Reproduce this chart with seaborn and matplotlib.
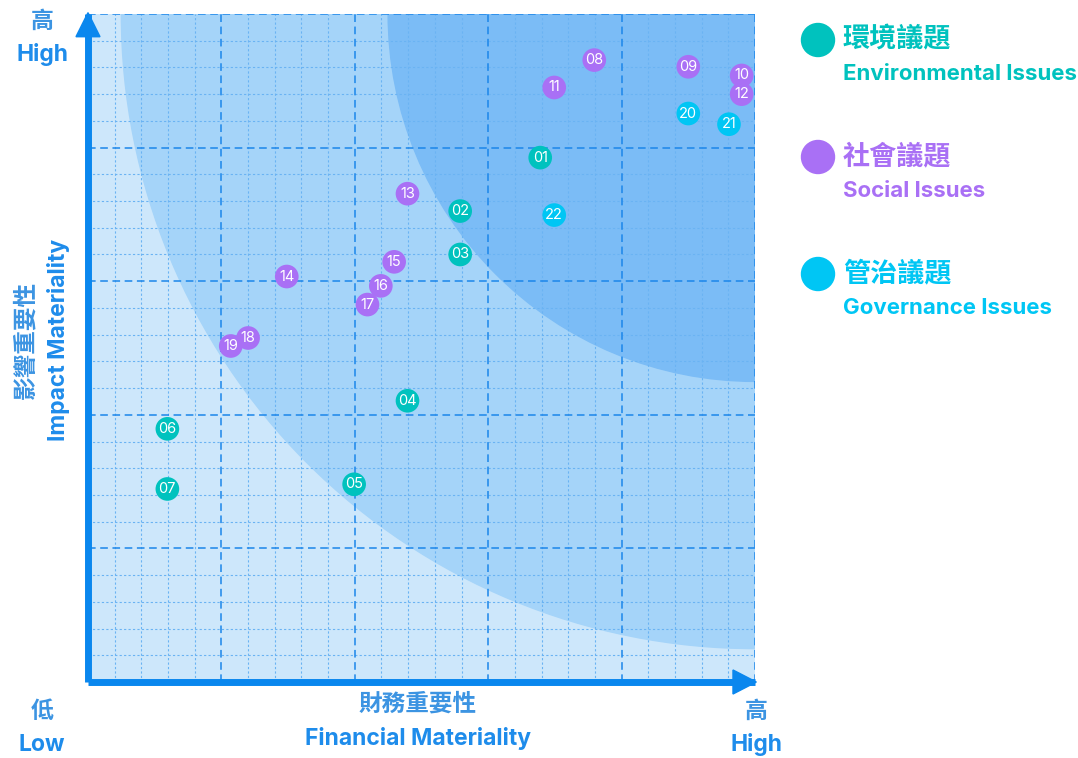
import matplotlib
matplotlib.use('Agg')
import matplotlib.pyplot as plt
from matplotlib.patches import Wedge, Ellipse
import pandas as pd
import seaborn as sns

# 議題資料 (財務重要性 x, 影響重要性 y)
issue_ids = ['01', '02', '03', '04', '05', '06', '07',
             '08', '09', '10', '11', '12', '13', '14', '15', '16', '17', '18', '19',
             '20', '21', '22']
groups = ['env'] * 7 + ['soc'] * 12 + ['gov'] * 3
fin_vals = [6.78, 5.58, 5.58, 4.79, 3.99, 1.19, 1.19,
            7.59, 9.0, 9.80, 6.99, 9.80, 4.79, 2.98, 4.59, 4.39, 4.19, 2.40, 2.14,
            9.0, 9.61, 6.99]
imp_vals = [7.85, 7.05, 6.40, 4.21, 2.96, 3.79, 2.89,
            9.31, 9.21, 9.08, 8.90, 8.80, 7.31, 6.07, 6.29, 5.93, 5.65, 5.15, 5.03,
            8.51, 8.35, 6.99]

colors = {'env': '#00C2BE', 'soc': '#A970F5', 'gov': '#00C6F4'}
legend_zh = ['環境議題', '社會議題', '管治議題']
legend_en = ['Environmental Issues', 'Social Issues', 'Governance Issues']

df = pd.DataFrame({'id': issue_ids, 'group': groups, 'fin': fin_vals, 'imp': imp_vals})

sns.set_theme(style='white')
plt.rcParams['font.family'] = ['Inter', 'Noto Sans CJK TC', 'DejaVu Sans']

fig = plt.figure(figsize=(10.78, 7.58), dpi=100)
ax = fig.add_axes([88 / 1078, 76 / 758, 667 / 1078, 668 / 758])
ax.set_xlim(0, 10)
ax.set_ylim(0, 10)

# 背景區塊
ax.add_patch(plt.Rectangle((0, 0), 10, 10, color='#CDE7FB', zorder=0))
ax.add_patch(Wedge((10, 10), 9.5, 180, 270, color='#A5D4F9', zorder=0.1))
ax.add_patch(Wedge((10, 10), 5.5, 180, 270, color='#7BBCF6', zorder=0.2))

# 格線
for v in [i * 0.4 for i in range(1, 25)]:
    if abs(v / 2 - round(v / 2)) < 1e-6:
        continue
    ax.axvline(v, color='#6AB3F3', lw=0.8, ls=(0, (2, 2)), zorder=0.5)
    ax.axhline(v, color='#6AB3F3', lw=0.8, ls=(0, (2, 2)), zorder=0.5)
for v in [2, 4, 6, 8, 10]:
    ax.axvline(v, color='#1B86EA', lw=1.1, ls=(0, (5, 3)), zorder=0.6)
    ax.axhline(v, color='#1B86EA', lw=1.1, ls=(0, (5, 3)), zorder=0.6)

sns.scatterplot(data=df, x='fin', y='imp', hue='group', palette=colors,
                s=290, edgecolor='none', legend=False, ax=ax, zorder=3, clip_on=False)
for _, r in df.iterrows():
    ax.text(r['fin'], r['imp'], r['id'], ha='center', va='center', color='white',
            fontsize=10.5, zorder=4)

for s in ax.spines.values():
    s.set_visible(False)
ax.set_xticks([])
ax.set_yticks([])
ax.set_xlabel('')
ax.set_ylabel('')

# 座標軸箭頭
axis_c = '#0A87EE'
ax.plot([0, 10], [0, 0], color=axis_c, lw=5, solid_capstyle='butt', zorder=5, clip_on=False)
ax.plot([0, 0], [0, 10], color=axis_c, lw=5, solid_capstyle='butt', zorder=5, clip_on=False)
ax.add_patch(plt.Polygon([[-0.18, 9.66], [0.18, 9.66], [0, 10.02]], color=axis_c,
                         zorder=6, clip_on=False))
ax.add_patch(plt.Polygon([[9.67, 0.18], [9.67, -0.18], [10.02, 0]], color=axis_c,
                         zorder=6, clip_on=False))

lab_c = '#3C94E2'
blue_c = '#1E8CEB'
def ftext(x, y, s, size, color, **kw):
    fig.text(x / 1078, 1 - y / 758, s, fontsize=size, color=color, fontweight='bold',
             ha='center', va='center', **kw)

ftext(42, 22, '高', 16.5, lab_c)
ftext(42, 55, 'High', 16.5, blue_c)
ftext(42, 712, '低', 16.5, lab_c)
ftext(42, 745, 'Low', 16.5, blue_c)
ftext(756, 712, '高', 16.5, lab_c)
ftext(756, 745, 'High', 16.5, blue_c)
ftext(418, 704, '財務重要性', 17, lab_c)
ftext(418, 738, 'Financial Materiality', 16.5, blue_c)
ftext(26, 340, '影響重要性', 17, lab_c, rotation=90)
ftext(58, 340, 'Impact Materiality', 16.5, blue_c, rotation=90)

# 圖例
for i, g in enumerate(['env', 'soc', 'gov']):
    cy = 40 + i * 117
    fig.patches.append(Ellipse((818 / 1078, 1 - cy / 758), 33 / 1078, 33 / 758,
                               color=colors[g], transform=fig.transFigure))
    fig.text(843 / 1078, 1 - cy / 758, legend_zh[i], fontsize=19.5, color=colors[g],
             fontweight='bold', ha='left', va='center')
    fig.text(843 / 1078, 1 - (cy + 34) / 758, legend_en[i], fontsize=16, color=colors[g],
             fontweight='bold', ha='left', va='center')

fig.savefig('out.png', dpi=100)
